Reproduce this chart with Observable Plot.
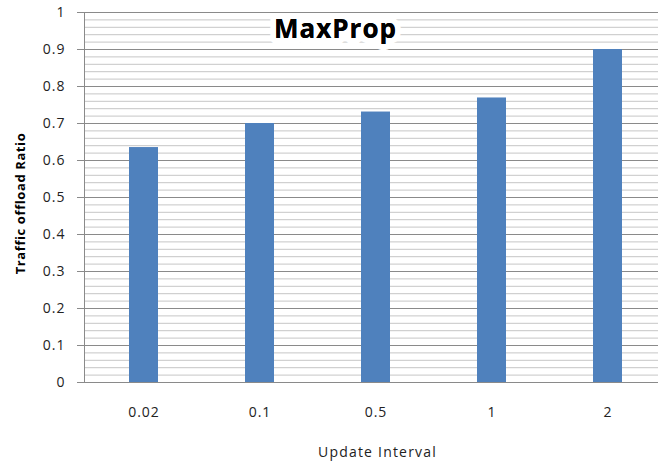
<!DOCTYPE html>
<html>
<head>
<meta charset="utf-8">
<script src="https://cdn.jsdelivr.net/npm/d3@7"></script>
<script src="https://cdn.jsdelivr.net/npm/@observablehq/plot@0.6"></script>
<style>
  html, body { margin: 0; padding: 0; background: #fff; }
  #chart { width: 658px; height: 462px; overflow: hidden; }
  #chart g[aria-label="y-axis tick label"], #chart g[aria-label="x-axis tick label"] { letter-spacing: 1px; }
  #chart .xlab { letter-spacing: 1.2px; }
  #chart .ylab { letter-spacing: 0.6px; }
  #chart .ttl { letter-spacing: 1px; }
</style>
</head>
<body>
<div id="chart"></div>
<script>
const categories = ["0.02", "0.1", "0.5", "1", "2"];
const values = [0.635, 0.70, 0.731, 0.769, 0.90];
const yMajorTicks = [0, 0.1, 0.2, 0.3, 0.4, 0.5, 0.6, 0.7, 0.8, 0.9, 1];
const yMinorTicks = d3.range(0, 51).map(i => i / 50);
const title = "MaxProp";
const xLabel = "Update Interval";
const yLabel = "Traffic offload Ratio";

const data = categories.map((c, i) => ({cat: c, value: values[i]}));
const font = "'Open Sans', Calibri, sans-serif";

const chart = Plot.plot({
  width: 658,
  height: 462,
  marginTop: 12,
  marginBottom: 80,
  marginLeft: 84,
  marginRight: 0,
  style: {fontFamily: font, background: "#fff", overflow: "hidden"},
  x: {type: "band", domain: categories, range: [84, 667.5], paddingInner: 0.75, paddingOuter: 0.375, axis: null},
  y: {domain: [0, 1], range: [382, 12], axis: null},
  marks: [
    Plot.gridY(yMinorTicks, {stroke: "#c6c6c6", strokeOpacity: 1, strokeWidth: 1}),
    Plot.gridY(yMajorTicks, {stroke: "#8a8a8a", strokeOpacity: 1, strokeWidth: 1}),
    Plot.frame({anchor: "left", stroke: "#8a8a8a"}),
    Plot.barY(data, {x: "cat", y: "value", fill: "#4f81bd"}),
    Plot.axisY(yMajorTicks, {tickSize: 7, tickPadding: 12, stroke: "#8a8a8a", fill: "#222", fontSize: 14, tickFormat: d => String(d), label: null}),
    Plot.axisX({tickSize: 0, tickPadding: 25, fill: "#222", fontSize: 14, label: null}),
    Plot.text([title], {frameAnchor: "top", dx: -36, dy: 17, lineAnchor: "middle", fontSize: 26, fontWeight: "bold", fill: "#000", stroke: "#fff", strokeWidth: 12, strokeLinejoin: "round", className: "ttl"}),
    Plot.text([title], {frameAnchor: "top", dx: -36, dy: 17, lineAnchor: "middle", fontSize: 26, fontWeight: "bold", fill: "#000", className: "ttl"}),
    Plot.text([xLabel], {frameAnchor: "bottom", dx: 6, dy: 70, lineAnchor: "middle", fontSize: 14, fill: "#222", className: "xlab"}),
    Plot.text([yLabel], {frameAnchor: "left", textAnchor: "middle", rotate: -90, dx: -64, dy: 6, fontSize: 13, fontWeight: "bold", fill: "#000", className: "ylab"})
  ]
});
document.getElementById("chart").appendChild(chart);
</script>
</body>
</html>
